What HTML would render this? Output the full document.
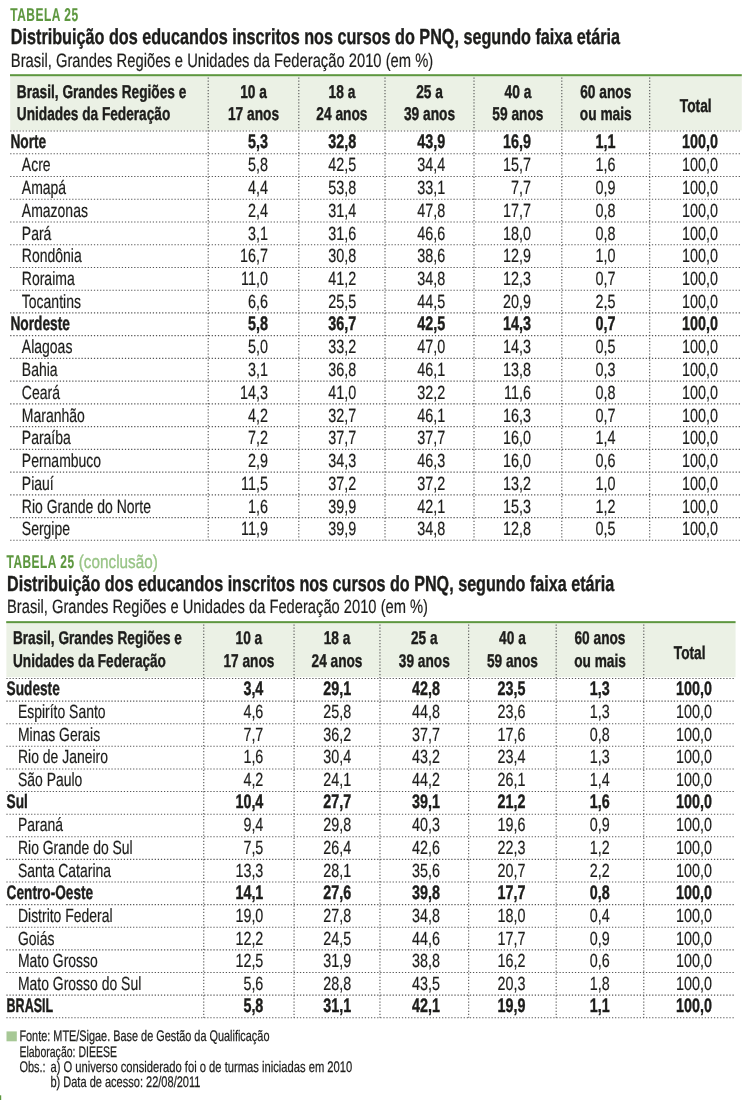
<!DOCTYPE html>
<html lang="pt-BR"><head><meta charset="utf-8"><title>Tabela 25</title><style>html,body{margin:0;padding:0;background:#fff}body{width:745px;height:1100px;overflow:hidden}svg{display:block;will-change:transform}text{fill:#1d1d1b;stroke:#1d1d1b;stroke-width:.2px;white-space:pre}.s1{font-size:21.8px}.s2{font-size:19.4px}.s3{font-size:18.5px}.s4{font-size:19.1px}.s5{font-size:19.6px}.b{font-weight:bold;stroke-width:.4px}.e{text-anchor:end}.m{text-anchor:middle}.tb{font-size:18.6px;font-weight:bold;fill:#5d973f;stroke:#5d973f;stroke-width:.15px;letter-spacing:.8px}.tc{font-size:18.6px;fill:#98c486;stroke:#98c486;stroke-width:.35px}.fn{font-size:15.3px;stroke-width:.25px}</style></head><body>
<svg width="745" height="1100" viewBox="0 0 745 1100" font-family="'Liberation Sans', sans-serif" fill="#1d1d1b" text-rendering="geometricPrecision">
<g id="tabela1">
<text class="tb" transform="translate(10.30 20.50) scale(0.642 1)">TABELA 25</text>
<text class="s1 b" transform="translate(10.80 43.80) scale(0.743 1)">Distribuição dos educandos inscritos nos cursos do PNQ, segundo faixa etária</text>
<text class="s2" transform="translate(10.80 66.50) scale(0.761 1)">Brasil, Grandes Regiões e Unidades da Federação 2010 (em %)</text>
<rect x="10.2" y="76" width="731.6" height="54.4" fill="#ebf1e5"/>
<rect x="10.0" y="74.2" width="731.8" height="2.0" fill="#5d973f"/>
<path d="M10.2 131.00H741.8M10.2 153.74H741.8M10.2 176.48H741.8M10.2 199.22H741.8M10.2 221.96H741.8M10.2 244.70H741.8M10.2 267.44H741.8M10.2 290.18H741.8M10.2 312.92H741.8M10.2 335.66H741.8M10.2 358.40H741.8M10.2 381.14H741.8M10.2 403.88H741.8M10.2 426.62H741.8M10.2 449.36H741.8M10.2 472.10H741.8M10.2 494.84H741.8M10.2 517.58H741.8M10.2 540.32H741.8M208.2 77.5V540.32M298.8 77.5V540.32M385.0 77.5V540.32M474.0 77.5V540.32M561.8 77.5V540.32M649.7 77.5V540.32" fill="none" stroke="#555" stroke-width="1.1" stroke-dasharray="1.25 1.85"/>
<text class="s3 b" transform="translate(16.80 97.60) scale(0.739 1)">Brasil, Grandes Regiões e</text>
<text class="s3 b" transform="translate(16.80 120.20) scale(0.739 1)">Unidades da Federação</text>
<text class="s3 b m" transform="translate(253.50 97.60) scale(0.742 1)">10 a</text>
<text class="s3 b m" transform="translate(253.50 120.20) scale(0.742 1)">17 anos</text>
<text class="s3 b m" transform="translate(341.90 97.60) scale(0.742 1)">18 a</text>
<text class="s3 b m" transform="translate(341.90 120.20) scale(0.742 1)">24 anos</text>
<text class="s3 b m" transform="translate(429.50 97.60) scale(0.742 1)">25 a</text>
<text class="s3 b m" transform="translate(429.50 120.20) scale(0.742 1)">39 anos</text>
<text class="s3 b m" transform="translate(517.90 97.60) scale(0.742 1)">40 a</text>
<text class="s3 b m" transform="translate(517.90 120.20) scale(0.742 1)">59 anos</text>
<text class="s3 b m" transform="translate(605.75 97.60) scale(0.742 1)">60 anos</text>
<text class="s3 b m" transform="translate(605.75 120.20) scale(0.742 1)">ou mais</text>
<text class="s3 b m" transform="translate(695.75 112.40) scale(0.742 1)">Total</text>
<text class="s5 b" transform="translate(10.40 148.30) scale(0.7 1)">Norte</text>
<text class="s5 b e" transform="translate(268.00 148.30) scale(0.734 1)">5,3</text>
<text class="s5 b e" transform="translate(356.20 148.30) scale(0.734 1)">32,8</text>
<text class="s5 b e" transform="translate(445.20 148.30) scale(0.734 1)">43,9</text>
<text class="s5 b e" transform="translate(531.00 148.30) scale(0.734 1)">16,9</text>
<text class="s5 b e" transform="translate(615.60 148.30) scale(0.734 1)">1,1</text>
<text class="s5 b e" transform="translate(718.00 148.30) scale(0.734 1)">100,0</text>
<text class="s4" transform="translate(21.80 171.44) scale(0.733 1)">Acre</text>
<text class="s4 e" transform="translate(268.00 171.44) scale(0.753 1)">5,8</text>
<text class="s4 e" transform="translate(356.20 171.44) scale(0.753 1)">42,5</text>
<text class="s4 e" transform="translate(445.20 171.44) scale(0.753 1)">34,4</text>
<text class="s4 e" transform="translate(531.00 171.44) scale(0.753 1)">15,7</text>
<text class="s4 e" transform="translate(615.60 171.44) scale(0.753 1)">1,6</text>
<text class="s4 e" transform="translate(718.00 171.44) scale(0.753 1)">100,0</text>
<text class="s4" transform="translate(21.80 194.18) scale(0.733 1)">Amapá</text>
<text class="s4 e" transform="translate(268.00 194.18) scale(0.753 1)">4,4</text>
<text class="s4 e" transform="translate(356.20 194.18) scale(0.753 1)">53,8</text>
<text class="s4 e" transform="translate(445.20 194.18) scale(0.753 1)">33,1</text>
<text class="s4 e" transform="translate(531.00 194.18) scale(0.753 1)">7,7</text>
<text class="s4 e" transform="translate(615.60 194.18) scale(0.753 1)">0,9</text>
<text class="s4 e" transform="translate(718.00 194.18) scale(0.753 1)">100,0</text>
<text class="s4" transform="translate(21.80 216.92) scale(0.733 1)">Amazonas</text>
<text class="s4 e" transform="translate(268.00 216.92) scale(0.753 1)">2,4</text>
<text class="s4 e" transform="translate(356.20 216.92) scale(0.753 1)">31,4</text>
<text class="s4 e" transform="translate(445.20 216.92) scale(0.753 1)">47,8</text>
<text class="s4 e" transform="translate(531.00 216.92) scale(0.753 1)">17,7</text>
<text class="s4 e" transform="translate(615.60 216.92) scale(0.753 1)">0,8</text>
<text class="s4 e" transform="translate(718.00 216.92) scale(0.753 1)">100,0</text>
<text class="s4" transform="translate(21.80 239.66) scale(0.733 1)">Pará</text>
<text class="s4 e" transform="translate(268.00 239.66) scale(0.753 1)">3,1</text>
<text class="s4 e" transform="translate(356.20 239.66) scale(0.753 1)">31,6</text>
<text class="s4 e" transform="translate(445.20 239.66) scale(0.753 1)">46,6</text>
<text class="s4 e" transform="translate(531.00 239.66) scale(0.753 1)">18,0</text>
<text class="s4 e" transform="translate(615.60 239.66) scale(0.753 1)">0,8</text>
<text class="s4 e" transform="translate(718.00 239.66) scale(0.753 1)">100,0</text>
<text class="s4" transform="translate(21.80 262.40) scale(0.733 1)">Rondônia</text>
<text class="s4 e" transform="translate(268.00 262.40) scale(0.753 1)">16,7</text>
<text class="s4 e" transform="translate(356.20 262.40) scale(0.753 1)">30,8</text>
<text class="s4 e" transform="translate(445.20 262.40) scale(0.753 1)">38,6</text>
<text class="s4 e" transform="translate(531.00 262.40) scale(0.753 1)">12,9</text>
<text class="s4 e" transform="translate(615.60 262.40) scale(0.753 1)">1,0</text>
<text class="s4 e" transform="translate(718.00 262.40) scale(0.753 1)">100,0</text>
<text class="s4" transform="translate(21.80 285.14) scale(0.733 1)">Roraima</text>
<text class="s4 e" transform="translate(268.00 285.14) scale(0.753 1)">11,0</text>
<text class="s4 e" transform="translate(356.20 285.14) scale(0.753 1)">41,2</text>
<text class="s4 e" transform="translate(445.20 285.14) scale(0.753 1)">34,8</text>
<text class="s4 e" transform="translate(531.00 285.14) scale(0.753 1)">12,3</text>
<text class="s4 e" transform="translate(615.60 285.14) scale(0.753 1)">0,7</text>
<text class="s4 e" transform="translate(718.00 285.14) scale(0.753 1)">100,0</text>
<text class="s4" transform="translate(21.80 307.88) scale(0.733 1)">Tocantins</text>
<text class="s4 e" transform="translate(268.00 307.88) scale(0.753 1)">6,6</text>
<text class="s4 e" transform="translate(356.20 307.88) scale(0.753 1)">25,5</text>
<text class="s4 e" transform="translate(445.20 307.88) scale(0.753 1)">44,5</text>
<text class="s4 e" transform="translate(531.00 307.88) scale(0.753 1)">20,9</text>
<text class="s4 e" transform="translate(615.60 307.88) scale(0.753 1)">2,5</text>
<text class="s4 e" transform="translate(718.00 307.88) scale(0.753 1)">100,0</text>
<text class="s5 b" transform="translate(10.40 330.22) scale(0.7 1)">Nordeste</text>
<text class="s5 b e" transform="translate(268.00 330.22) scale(0.734 1)">5,8</text>
<text class="s5 b e" transform="translate(356.20 330.22) scale(0.734 1)">36,7</text>
<text class="s5 b e" transform="translate(445.20 330.22) scale(0.734 1)">42,5</text>
<text class="s5 b e" transform="translate(531.00 330.22) scale(0.734 1)">14,3</text>
<text class="s5 b e" transform="translate(615.60 330.22) scale(0.734 1)">0,7</text>
<text class="s5 b e" transform="translate(718.00 330.22) scale(0.734 1)">100,0</text>
<text class="s4" transform="translate(21.80 353.36) scale(0.733 1)">Alagoas</text>
<text class="s4 e" transform="translate(268.00 353.36) scale(0.753 1)">5,0</text>
<text class="s4 e" transform="translate(356.20 353.36) scale(0.753 1)">33,2</text>
<text class="s4 e" transform="translate(445.20 353.36) scale(0.753 1)">47,0</text>
<text class="s4 e" transform="translate(531.00 353.36) scale(0.753 1)">14,3</text>
<text class="s4 e" transform="translate(615.60 353.36) scale(0.753 1)">0,5</text>
<text class="s4 e" transform="translate(718.00 353.36) scale(0.753 1)">100,0</text>
<text class="s4" transform="translate(21.80 376.10) scale(0.733 1)">Bahia</text>
<text class="s4 e" transform="translate(268.00 376.10) scale(0.753 1)">3,1</text>
<text class="s4 e" transform="translate(356.20 376.10) scale(0.753 1)">36,8</text>
<text class="s4 e" transform="translate(445.20 376.10) scale(0.753 1)">46,1</text>
<text class="s4 e" transform="translate(531.00 376.10) scale(0.753 1)">13,8</text>
<text class="s4 e" transform="translate(615.60 376.10) scale(0.753 1)">0,3</text>
<text class="s4 e" transform="translate(718.00 376.10) scale(0.753 1)">100,0</text>
<text class="s4" transform="translate(21.80 398.84) scale(0.733 1)">Ceará</text>
<text class="s4 e" transform="translate(268.00 398.84) scale(0.753 1)">14,3</text>
<text class="s4 e" transform="translate(356.20 398.84) scale(0.753 1)">41,0</text>
<text class="s4 e" transform="translate(445.20 398.84) scale(0.753 1)">32,2</text>
<text class="s4 e" transform="translate(531.00 398.84) scale(0.753 1)">11,6</text>
<text class="s4 e" transform="translate(615.60 398.84) scale(0.753 1)">0,8</text>
<text class="s4 e" transform="translate(718.00 398.84) scale(0.753 1)">100,0</text>
<text class="s4" transform="translate(21.80 421.58) scale(0.733 1)">Maranhão</text>
<text class="s4 e" transform="translate(268.00 421.58) scale(0.753 1)">4,2</text>
<text class="s4 e" transform="translate(356.20 421.58) scale(0.753 1)">32,7</text>
<text class="s4 e" transform="translate(445.20 421.58) scale(0.753 1)">46,1</text>
<text class="s4 e" transform="translate(531.00 421.58) scale(0.753 1)">16,3</text>
<text class="s4 e" transform="translate(615.60 421.58) scale(0.753 1)">0,7</text>
<text class="s4 e" transform="translate(718.00 421.58) scale(0.753 1)">100,0</text>
<text class="s4" transform="translate(21.80 444.32) scale(0.733 1)">Paraíba</text>
<text class="s4 e" transform="translate(268.00 444.32) scale(0.753 1)">7,2</text>
<text class="s4 e" transform="translate(356.20 444.32) scale(0.753 1)">37,7</text>
<text class="s4 e" transform="translate(445.20 444.32) scale(0.753 1)">37,7</text>
<text class="s4 e" transform="translate(531.00 444.32) scale(0.753 1)">16,0</text>
<text class="s4 e" transform="translate(615.60 444.32) scale(0.753 1)">1,4</text>
<text class="s4 e" transform="translate(718.00 444.32) scale(0.753 1)">100,0</text>
<text class="s4" transform="translate(21.80 467.06) scale(0.733 1)">Pernambuco</text>
<text class="s4 e" transform="translate(268.00 467.06) scale(0.753 1)">2,9</text>
<text class="s4 e" transform="translate(356.20 467.06) scale(0.753 1)">34,3</text>
<text class="s4 e" transform="translate(445.20 467.06) scale(0.753 1)">46,3</text>
<text class="s4 e" transform="translate(531.00 467.06) scale(0.753 1)">16,0</text>
<text class="s4 e" transform="translate(615.60 467.06) scale(0.753 1)">0,6</text>
<text class="s4 e" transform="translate(718.00 467.06) scale(0.753 1)">100,0</text>
<text class="s4" transform="translate(21.80 489.80) scale(0.733 1)">Piauí</text>
<text class="s4 e" transform="translate(268.00 489.80) scale(0.753 1)">11,5</text>
<text class="s4 e" transform="translate(356.20 489.80) scale(0.753 1)">37,2</text>
<text class="s4 e" transform="translate(445.20 489.80) scale(0.753 1)">37,2</text>
<text class="s4 e" transform="translate(531.00 489.80) scale(0.753 1)">13,2</text>
<text class="s4 e" transform="translate(615.60 489.80) scale(0.753 1)">1,0</text>
<text class="s4 e" transform="translate(718.00 489.80) scale(0.753 1)">100,0</text>
<text class="s4" transform="translate(21.80 512.54) scale(0.733 1)">Rio Grande do Norte</text>
<text class="s4 e" transform="translate(268.00 512.54) scale(0.753 1)">1,6</text>
<text class="s4 e" transform="translate(356.20 512.54) scale(0.753 1)">39,9</text>
<text class="s4 e" transform="translate(445.20 512.54) scale(0.753 1)">42,1</text>
<text class="s4 e" transform="translate(531.00 512.54) scale(0.753 1)">15,3</text>
<text class="s4 e" transform="translate(615.60 512.54) scale(0.753 1)">1,2</text>
<text class="s4 e" transform="translate(718.00 512.54) scale(0.753 1)">100,0</text>
<text class="s4" transform="translate(21.80 535.28) scale(0.733 1)">Sergipe</text>
<text class="s4 e" transform="translate(268.00 535.28) scale(0.753 1)">11,9</text>
<text class="s4 e" transform="translate(356.20 535.28) scale(0.753 1)">39,9</text>
<text class="s4 e" transform="translate(445.20 535.28) scale(0.753 1)">34,8</text>
<text class="s4 e" transform="translate(531.00 535.28) scale(0.753 1)">12,8</text>
<text class="s4 e" transform="translate(615.60 535.28) scale(0.753 1)">0,5</text>
<text class="s4 e" transform="translate(718.00 535.28) scale(0.753 1)">100,0</text>
</g>
<g id="tabela2" transform="translate(-3.77 547.2) scale(0.9967)">
<text class="tb" transform="translate(10.30 20.50) scale(0.642 1)">TABELA 25</text>
<text class="tc" transform="translate(82.80 20.60) scale(0.825 1)">(conclusão)</text>
<text class="s1 b" transform="translate(10.80 43.80) scale(0.743 1)">Distribuição dos educandos inscritos nos cursos do PNQ, segundo faixa etária</text>
<text class="s2" transform="translate(10.80 66.50) scale(0.761 1)">Brasil, Grandes Regiões e Unidades da Federação 2010 (em %)</text>
<rect x="10.2" y="76" width="731.6" height="54.4" fill="#ebf1e5"/>
<rect x="10.0" y="74.2" width="731.8" height="2.0" fill="#5d973f"/>
<path d="M10.2 131.70H741.8M10.2 154.39H741.8M10.2 177.09H741.8M10.2 199.78H741.8M10.2 222.47H741.8M10.2 245.17H741.8M10.2 267.86H741.8M10.2 290.55H741.8M10.2 313.25H741.8M10.2 335.94H741.8M10.2 358.63H741.8M10.2 381.33H741.8M10.2 404.02H741.8M10.2 426.71H741.8M10.2 449.41H741.8M10.2 472.10H741.8M208.2 77.5V472.10M298.8 77.5V472.10M385.0 77.5V472.10M474.0 77.5V472.10M561.8 77.5V472.10M649.7 77.5V472.10" fill="none" stroke="#555" stroke-width="1.1" stroke-dasharray="1.25 1.85"/>
<text class="s3 b" transform="translate(16.80 97.60) scale(0.739 1)">Brasil, Grandes Regiões e</text>
<text class="s3 b" transform="translate(16.80 120.20) scale(0.739 1)">Unidades da Federação</text>
<text class="s3 b m" transform="translate(253.50 97.60) scale(0.742 1)">10 a</text>
<text class="s3 b m" transform="translate(253.50 120.20) scale(0.742 1)">17 anos</text>
<text class="s3 b m" transform="translate(341.90 97.60) scale(0.742 1)">18 a</text>
<text class="s3 b m" transform="translate(341.90 120.20) scale(0.742 1)">24 anos</text>
<text class="s3 b m" transform="translate(429.50 97.60) scale(0.742 1)">25 a</text>
<text class="s3 b m" transform="translate(429.50 120.20) scale(0.742 1)">39 anos</text>
<text class="s3 b m" transform="translate(517.90 97.60) scale(0.742 1)">40 a</text>
<text class="s3 b m" transform="translate(517.90 120.20) scale(0.742 1)">59 anos</text>
<text class="s3 b m" transform="translate(605.75 97.60) scale(0.742 1)">60 anos</text>
<text class="s3 b m" transform="translate(605.75 120.20) scale(0.742 1)">ou mais</text>
<text class="s3 b m" transform="translate(695.75 112.40) scale(0.742 1)">Total</text>
<text class="s5 b" transform="translate(10.40 148.30) scale(0.7 1)">Sudeste</text>
<text class="s5 b e" transform="translate(268.00 148.30) scale(0.734 1)">3,4</text>
<text class="s5 b e" transform="translate(356.20 148.30) scale(0.734 1)">29,1</text>
<text class="s5 b e" transform="translate(445.20 148.30) scale(0.734 1)">42,8</text>
<text class="s5 b e" transform="translate(531.00 148.30) scale(0.734 1)">23,5</text>
<text class="s5 b e" transform="translate(615.60 148.30) scale(0.734 1)">1,3</text>
<text class="s5 b e" transform="translate(718.00 148.30) scale(0.734 1)">100,0</text>
<text class="s4" transform="translate(21.80 171.44) scale(0.733 1)">Espiríto Santo</text>
<text class="s4 e" transform="translate(268.00 171.44) scale(0.753 1)">4,6</text>
<text class="s4 e" transform="translate(356.20 171.44) scale(0.753 1)">25,8</text>
<text class="s4 e" transform="translate(445.20 171.44) scale(0.753 1)">44,8</text>
<text class="s4 e" transform="translate(531.00 171.44) scale(0.753 1)">23,6</text>
<text class="s4 e" transform="translate(615.60 171.44) scale(0.753 1)">1,3</text>
<text class="s4 e" transform="translate(718.00 171.44) scale(0.753 1)">100,0</text>
<text class="s4" transform="translate(21.80 194.18) scale(0.733 1)">Minas Gerais</text>
<text class="s4 e" transform="translate(268.00 194.18) scale(0.753 1)">7,7</text>
<text class="s4 e" transform="translate(356.20 194.18) scale(0.753 1)">36,2</text>
<text class="s4 e" transform="translate(445.20 194.18) scale(0.753 1)">37,7</text>
<text class="s4 e" transform="translate(531.00 194.18) scale(0.753 1)">17,6</text>
<text class="s4 e" transform="translate(615.60 194.18) scale(0.753 1)">0,8</text>
<text class="s4 e" transform="translate(718.00 194.18) scale(0.753 1)">100,0</text>
<text class="s4" transform="translate(21.80 216.92) scale(0.733 1)">Rio de Janeiro</text>
<text class="s4 e" transform="translate(268.00 216.92) scale(0.753 1)">1,6</text>
<text class="s4 e" transform="translate(356.20 216.92) scale(0.753 1)">30,4</text>
<text class="s4 e" transform="translate(445.20 216.92) scale(0.753 1)">43,2</text>
<text class="s4 e" transform="translate(531.00 216.92) scale(0.753 1)">23,4</text>
<text class="s4 e" transform="translate(615.60 216.92) scale(0.753 1)">1,3</text>
<text class="s4 e" transform="translate(718.00 216.92) scale(0.753 1)">100,0</text>
<text class="s4" transform="translate(21.80 239.66) scale(0.733 1)">São Paulo</text>
<text class="s4 e" transform="translate(268.00 239.66) scale(0.753 1)">4,2</text>
<text class="s4 e" transform="translate(356.20 239.66) scale(0.753 1)">24,1</text>
<text class="s4 e" transform="translate(445.20 239.66) scale(0.753 1)">44,2</text>
<text class="s4 e" transform="translate(531.00 239.66) scale(0.753 1)">26,1</text>
<text class="s4 e" transform="translate(615.60 239.66) scale(0.753 1)">1,4</text>
<text class="s4 e" transform="translate(718.00 239.66) scale(0.753 1)">100,0</text>
<text class="s5 b" transform="translate(10.40 262.00) scale(0.7 1)">Sul</text>
<text class="s5 b e" transform="translate(268.00 262.00) scale(0.734 1)">10,4</text>
<text class="s5 b e" transform="translate(356.20 262.00) scale(0.734 1)">27,7</text>
<text class="s5 b e" transform="translate(445.20 262.00) scale(0.734 1)">39,1</text>
<text class="s5 b e" transform="translate(531.00 262.00) scale(0.734 1)">21,2</text>
<text class="s5 b e" transform="translate(615.60 262.00) scale(0.734 1)">1,6</text>
<text class="s5 b e" transform="translate(718.00 262.00) scale(0.734 1)">100,0</text>
<text class="s4" transform="translate(21.80 285.14) scale(0.733 1)">Paraná</text>
<text class="s4 e" transform="translate(268.00 285.14) scale(0.753 1)">9,4</text>
<text class="s4 e" transform="translate(356.20 285.14) scale(0.753 1)">29,8</text>
<text class="s4 e" transform="translate(445.20 285.14) scale(0.753 1)">40,3</text>
<text class="s4 e" transform="translate(531.00 285.14) scale(0.753 1)">19,6</text>
<text class="s4 e" transform="translate(615.60 285.14) scale(0.753 1)">0,9</text>
<text class="s4 e" transform="translate(718.00 285.14) scale(0.753 1)">100,0</text>
<text class="s4" transform="translate(21.80 307.88) scale(0.733 1)">Rio Grande do Sul</text>
<text class="s4 e" transform="translate(268.00 307.88) scale(0.753 1)">7,5</text>
<text class="s4 e" transform="translate(356.20 307.88) scale(0.753 1)">26,4</text>
<text class="s4 e" transform="translate(445.20 307.88) scale(0.753 1)">42,6</text>
<text class="s4 e" transform="translate(531.00 307.88) scale(0.753 1)">22,3</text>
<text class="s4 e" transform="translate(615.60 307.88) scale(0.753 1)">1,2</text>
<text class="s4 e" transform="translate(718.00 307.88) scale(0.753 1)">100,0</text>
<text class="s4" transform="translate(21.80 330.62) scale(0.733 1)">Santa Catarina</text>
<text class="s4 e" transform="translate(268.00 330.62) scale(0.753 1)">13,3</text>
<text class="s4 e" transform="translate(356.20 330.62) scale(0.753 1)">28,1</text>
<text class="s4 e" transform="translate(445.20 330.62) scale(0.753 1)">35,6</text>
<text class="s4 e" transform="translate(531.00 330.62) scale(0.753 1)">20,7</text>
<text class="s4 e" transform="translate(615.60 330.62) scale(0.753 1)">2,2</text>
<text class="s4 e" transform="translate(718.00 330.62) scale(0.753 1)">100,0</text>
<text class="s5 b" transform="translate(10.40 352.96) scale(0.7 1)">Centro-Oeste</text>
<text class="s5 b e" transform="translate(268.00 352.96) scale(0.734 1)">14,1</text>
<text class="s5 b e" transform="translate(356.20 352.96) scale(0.734 1)">27,6</text>
<text class="s5 b e" transform="translate(445.20 352.96) scale(0.734 1)">39,8</text>
<text class="s5 b e" transform="translate(531.00 352.96) scale(0.734 1)">17,7</text>
<text class="s5 b e" transform="translate(615.60 352.96) scale(0.734 1)">0,8</text>
<text class="s5 b e" transform="translate(718.00 352.96) scale(0.734 1)">100,0</text>
<text class="s4" transform="translate(21.80 376.10) scale(0.733 1)">Distrito Federal</text>
<text class="s4 e" transform="translate(268.00 376.10) scale(0.753 1)">19,0</text>
<text class="s4 e" transform="translate(356.20 376.10) scale(0.753 1)">27,8</text>
<text class="s4 e" transform="translate(445.20 376.10) scale(0.753 1)">34,8</text>
<text class="s4 e" transform="translate(531.00 376.10) scale(0.753 1)">18,0</text>
<text class="s4 e" transform="translate(615.60 376.10) scale(0.753 1)">0,4</text>
<text class="s4 e" transform="translate(718.00 376.10) scale(0.753 1)">100,0</text>
<text class="s4" transform="translate(21.80 398.84) scale(0.733 1)">Goiás</text>
<text class="s4 e" transform="translate(268.00 398.84) scale(0.753 1)">12,2</text>
<text class="s4 e" transform="translate(356.20 398.84) scale(0.753 1)">24,5</text>
<text class="s4 e" transform="translate(445.20 398.84) scale(0.753 1)">44,6</text>
<text class="s4 e" transform="translate(531.00 398.84) scale(0.753 1)">17,7</text>
<text class="s4 e" transform="translate(615.60 398.84) scale(0.753 1)">0,9</text>
<text class="s4 e" transform="translate(718.00 398.84) scale(0.753 1)">100,0</text>
<text class="s4" transform="translate(21.80 421.58) scale(0.733 1)">Mato Grosso</text>
<text class="s4 e" transform="translate(268.00 421.58) scale(0.753 1)">12,5</text>
<text class="s4 e" transform="translate(356.20 421.58) scale(0.753 1)">31,9</text>
<text class="s4 e" transform="translate(445.20 421.58) scale(0.753 1)">38,8</text>
<text class="s4 e" transform="translate(531.00 421.58) scale(0.753 1)">16,2</text>
<text class="s4 e" transform="translate(615.60 421.58) scale(0.753 1)">0,6</text>
<text class="s4 e" transform="translate(718.00 421.58) scale(0.753 1)">100,0</text>
<text class="s4" transform="translate(21.80 444.32) scale(0.733 1)">Mato Grosso do Sul</text>
<text class="s4 e" transform="translate(268.00 444.32) scale(0.753 1)">5,6</text>
<text class="s4 e" transform="translate(356.20 444.32) scale(0.753 1)">28,8</text>
<text class="s4 e" transform="translate(445.20 444.32) scale(0.753 1)">43,5</text>
<text class="s4 e" transform="translate(531.00 444.32) scale(0.753 1)">20,3</text>
<text class="s4 e" transform="translate(615.60 444.32) scale(0.753 1)">1,8</text>
<text class="s4 e" transform="translate(718.00 444.32) scale(0.753 1)">100,0</text>
<text class="s5 b" transform="translate(10.40 466.66) scale(0.64 1)">BRASIL</text>
<text class="s5 b e" transform="translate(268.00 466.66) scale(0.734 1)">5,8</text>
<text class="s5 b e" transform="translate(356.20 466.66) scale(0.734 1)">31,1</text>
<text class="s5 b e" transform="translate(445.20 466.66) scale(0.734 1)">42,1</text>
<text class="s5 b e" transform="translate(531.00 466.66) scale(0.734 1)">19,9</text>
<text class="s5 b e" transform="translate(615.60 466.66) scale(0.734 1)">1,1</text>
<text class="s5 b e" transform="translate(718.00 466.66) scale(0.734 1)">100,0</text>
</g>
<g id="notas">
<rect x="6.5" y="1031.4" width="10.3" height="9.9" fill="#a7c896"/>
<text class="fn" transform="translate(19.40 1041.20) scale(0.712 1)">Fonte: MTE/Sigae. Base de Gestão da Qualificação</text>
<text class="fn" transform="translate(19.40 1056.70) scale(0.687 1)">Elaboração: DIEESE</text>
<text class="fn" transform="translate(19.40 1072.10) scale(0.716 1)">Obs.:</text>
<text class="fn" transform="translate(50.40 1072.10) scale(0.732 1)">a) O universo considerado foi o de turmas iniciadas em 2010</text>
<text class="fn" transform="translate(50.40 1087.40) scale(0.721 1)">b) Data de acesso: 22/08/2011</text>
<rect x="0" y="1095.3" width="1.2" height="4.7" fill="#5d973f"/>
</g>
</svg>
</body></html>
